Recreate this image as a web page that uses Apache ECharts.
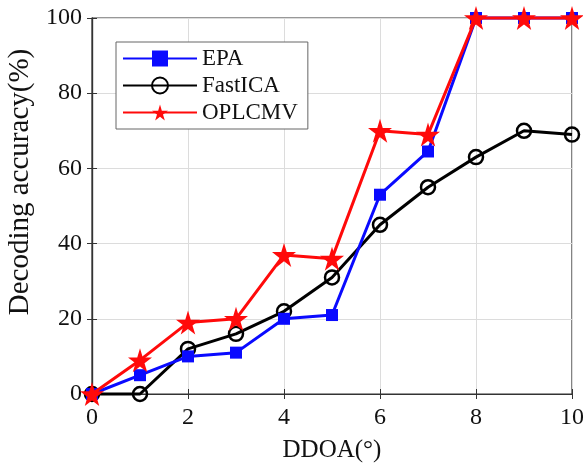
<!DOCTYPE html>
<html>
<head>
<meta charset="utf-8">
<script src="https://cdn.jsdelivr.net/npm/echarts@6/dist/echarts.min.js"></script>
<style>
  html, body { margin: 0; padding: 0; background: #fff; }
  #chart { width: 583px; height: 466px; }
</style>
</head>
<body>
<div id="chart"></div>
<script>
// DDOA values
var ddoa = [0, 1, 2, 3, 4, 5, 6, 7, 8, 9, 10];
// decoding accuracy (%)
var epa = [0, 5, 10, 11, 20, 21, 53, 64.5, 100, 100, 100];
var fastica = [0, 0, 12, 16, 22, 31, 45, 55, 63, 70, 69];
var oplcmv = [0, 9, 19, 20, 37, 36, 70, 69, 100, 100, 100];

var starPath = "path://M50,0 L61,35 L98,35 L68,57 L79,91 L50,70 L21,91 L32,57 L2,35 L39,35 Z";
var font = "Liberation Serif";

function pairs(ys) {
  return ddoa.map(function (x, i) { return [x, ys[i]]; });
}

var myChart = echarts.init(document.getElementById("chart"));
var option = {
  backgroundColor: "#fff",
  animation: false,
  grid: {
    left: 92,
    right: 11,
    top: 18,
    bottom: 72,
    outerBoundsMode: "none",
    containLabel: false,
    show: true,
    borderColor: "#333",
    borderWidth: 1.2,
    backgroundColor: "transparent"
  },
  legend: {
    orient: "vertical",
    left: 116,
    top: 42,
    backgroundColor: "#fff",
    borderColor: "#666",
    borderWidth: 1,
    borderRadius: 0,
    padding: [5, 10, 5, 6],
    itemGap: 4,
    itemWidth: 74,
    itemHeight: 20,
    textStyle: { fontFamily: font, fontSize: 23, color: "#111" },
    data: ["EPA", "FastICA", "OPLCMV"]
  },
  xAxis: [
    {
      type: "value",
      min: 0,
      max: 10,
      interval: 2,
      name: "DDOA(°)",
      nameLocation: "middle",
      nameGap: 44,
      nameTextStyle: { fontFamily: font, fontSize: 25, color: "#111" },
      axisLine: { show: true, lineStyle: { color: "#333", width: 1.2 } },
      axisTick: { show: true, inside: true, length: 5, lineStyle: { color: "#333" } },
      axisLabel: { fontFamily: font, fontSize: 24, color: "#111", margin: 12 },
      splitLine: { show: true, lineStyle: { color: "#dcdcdc", width: 1 } }
    },
    {
      type: "value",
      position: "top",
      min: 0,
      max: 10,
      interval: 2,
      axisLine: { show: true, lineStyle: { color: "#333", width: 1.2 } },
      axisTick: { show: true, inside: true, length: 5, lineStyle: { color: "#333" } },
      axisLabel: { show: false },
      splitLine: { show: false }
    }
  ],
  yAxis: [
    {
      type: "value",
      min: 0,
      max: 100,
      interval: 20,
      name: "Decoding accuracy(%)",
      nameLocation: "middle",
      nameGap: 56,
      nameTextStyle: { fontFamily: font, fontSize: 29, color: "#111", padding: [0, 0, 0, 48] },
      axisLine: { show: true, lineStyle: { color: "#333", width: 1.2 } },
      axisTick: { show: true, inside: true, length: 5, lineStyle: { color: "#333" } },
      axisLabel: { fontFamily: font, fontSize: 24, color: "#111", margin: 10 },
      splitLine: { show: true, lineStyle: { color: "#dcdcdc", width: 1 } }
    },
    {
      type: "value",
      position: "right",
      min: 0,
      max: 100,
      interval: 20,
      axisLine: { show: true, lineStyle: { color: "#333", width: 1.2 } },
      axisTick: { show: true, inside: true, length: 5, lineStyle: { color: "#333" } },
      axisLabel: { show: false },
      splitLine: { show: false }
    }
  ],
  series: [
    {
      name: "EPA",
      type: "line",
      data: pairs(epa),
      clip: false,
      symbol: "rect",
      symbolSize: 12,
      itemStyle: { color: "#0a0aff" },
      lineStyle: { color: "#0a0aff", width: 3 },
      z: 3
    },
    {
      name: "FastICA",
      type: "line",
      data: pairs(fastica),
      clip: false,
      symbol: "circle",
      symbolSize: 14,
      itemStyle: { color: "rgba(255,255,255,0)", borderColor: "#000", borderWidth: 2.5 },
      lineStyle: { color: "#000", width: 3 },
      z: 2
    },
    {
      name: "OPLCMV",
      type: "line",
      data: pairs(oplcmv),
      clip: false,
      symbol: starPath,
      symbolSize: 24,
      itemStyle: { color: "#ff0a0a" },
      lineStyle: { color: "#ff0a0a", width: 3 },
      z: 4
    }
  ]
};
myChart.setOption(option);
window.addEventListener("resize", function () {
  myChart.resize();
});
</script>
</body>
</html>
